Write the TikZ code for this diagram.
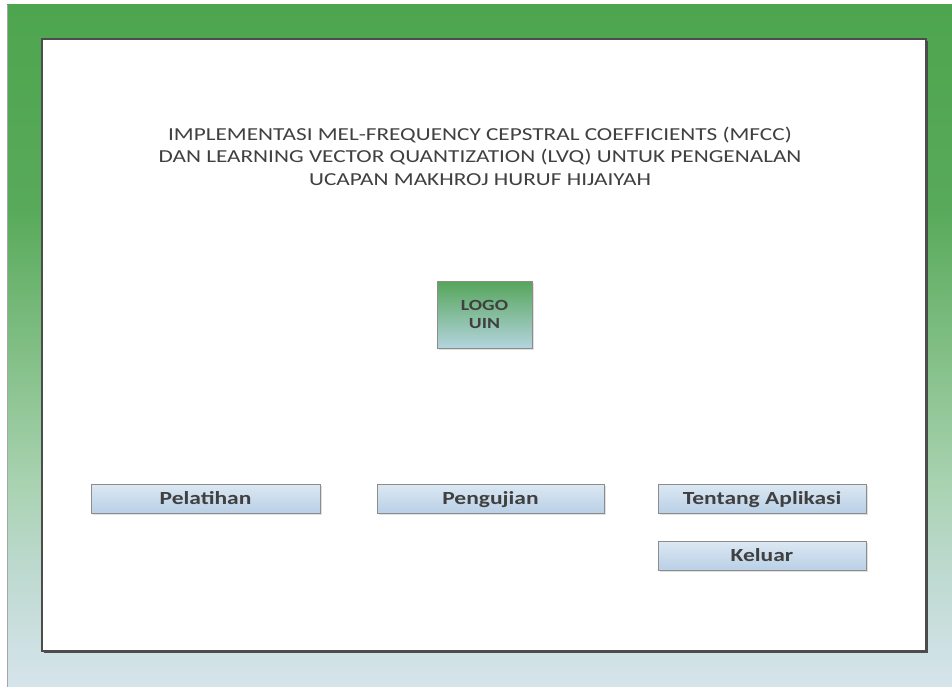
\documentclass[tikz,border=0pt]{standalone}
\usepackage{fontspec}
\setmainfont{Carlito}[FakeStretch=1.27]
\usetikzlibrary{shadows}
\definecolor{txt}{HTML}{404040}
\definecolor{bgA}{HTML}{4EA54F}
\definecolor{bgB}{HTML}{58AA5A}
\definecolor{bgC}{HTML}{80BE84}
\definecolor{bgD}{HTML}{A8D2B0}
\definecolor{bgE}{HTML}{BCD9CE}
\definecolor{bgF}{HTML}{D6E4EC}
\definecolor{btntop}{HTML}{DCE8F3}
\definecolor{btnbot}{HTML}{B9D0E6}
\definecolor{btnline}{HTML}{8C8C8C}
\definecolor{logotop}{HTML}{55A55A}
\definecolor{logobot}{HTML}{B4D4DE}
\pgfdeclareverticalshading{bgshade}{100bp}{color(0bp)=(bgF); color(25bp)=(bgF); color(34bp)=(bgE); color(40bp)=(bgD); color(50bp)=(bgC); color(60bp)=(bgB); color(75bp)=(bgA); color(100bp)=(bgA)}
\tikzset{
  btn/.style={draw=btnline, line width=0.8pt, top color=btntop, bottom color=btnbot,
    minimum width=#1, minimum height=29pt, inner sep=0pt, text height=12pt, text depth=0.5pt,
    font=\fontsize{18.5}{22}\selectfont\bfseries, text=txt,
    drop shadow={shadow xshift=2pt, shadow yshift=-2pt, fill=black, opacity=0.12}},
  logobox/.style={draw=btnline, line width=0.8pt, top color=logotop, bottom color=logobot,
    minimum width=95pt, minimum height=67pt, inner sep=0pt, align=center,
    font=\fontsize{15.5}{18}\selectfont\bfseries, text=txt,
    drop shadow={shadow xshift=2pt, shadow yshift=-2pt, fill=black, opacity=0.12}},
  titletext/.style={align=center, text=txt, inner sep=0pt,
    font=\fontsize{18.3}{22.5}\selectfont}
}
\begin{document}
\begin{tikzpicture}[x=1pt,y=-1pt]
\useasboundingbox (0,0) rectangle (952,687);
\fill[white] (0,0) rectangle (952,687);
% outer gradient panel
\shade[shading=bgshade] (7,5) rectangle (952,687);
\draw[gray!70, line width=0.8pt] (7,5) -- (7,687);
% inner white page with shadow
\fill[black!70] (44,41) rectangle (928,653);
\fill[white] (42,39) rectangle (926,651);
\draw[black!70, line width=1.2pt] (42,39) rectangle (926,651);
% title
\node[titletext] (title) at (480,156) {IMPLEMENTASI MEL-FREQUENCY CEPSTRAL COEFFICIENTS (MFCC)\\DAN LEARNING VECTOR QUANTIZATION (LVQ) UNTUK PENGENALAN\\UCAPAN MAKHROJ HURUF HIJAIYAH};
% logo
\node[logobox] (logo) at (484.5,314.5) {LOGO\\UIN};
% buttons
\node[btn=229pt] (pelatihan) at (205.5,498.5) {Pelatihan};
\node[btn=227pt] (pengujian) at (490.5,498.5) {Pengujian};
\node[btn=208pt] (tentang) at (762,498.5) {Tentang Aplikasi};
\node[btn=208pt] (keluar) at (762,555.5) {Keluar};
\end{tikzpicture}
\end{document}
